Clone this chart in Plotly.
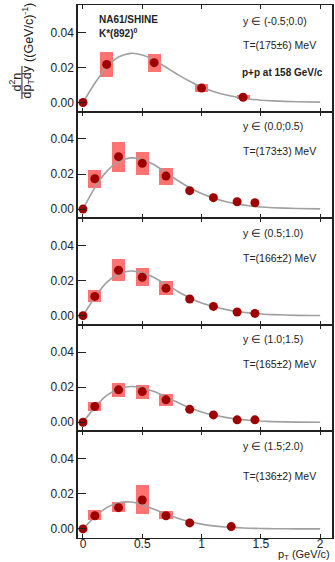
import plotly.graph_objects as go
from plotly.subplots import make_subplots

# ---------------- data ----------------
rap_labels = ["y ∈ (-0.5;0.0)", "y ∈ (0.0;0.5)", "y ∈ (0.5;1.0)", "y ∈ (1.0;1.5)", "y ∈ (1.5;2.0)"]
temp_labels = ["T=(175±6) MeV", "T=(173±3) MeV", "T=(166±2) MeV", "T=(165±2) MeV", "T=(136±2) MeV"]

pt_1 = [0.0, 0.2, 0.6, 1.0, 1.35]
val_1 = [0.0, 0.0217, 0.0227, 0.0082, 0.0030]
sys_1 = [0.0, 0.0069, 0.0051, 0.0022, 0.0012]

pt_2 = [0.0, 0.1, 0.3, 0.5, 0.7, 0.9, 1.1, 1.3, 1.45]
val_2 = [0.0, 0.0173, 0.0299, 0.0261, 0.0188, 0.0105, 0.0065, 0.0042, 0.0036]
sys_2 = [0.0, 0.0051, 0.0087, 0.0065, 0.0047, 0.0, 0.0, 0.0, 0.0]

pt_3 = [0.0, 0.1, 0.3, 0.5, 0.7, 0.9, 1.1, 1.3, 1.45]
val_3 = [0.0, 0.0110, 0.0259, 0.0219, 0.0156, 0.0095, 0.0053, 0.0021, 0.0013]
sys_3 = [0.0, 0.0033, 0.0062, 0.0052, 0.0041, 0.0, 0.0, 0.0, 0.0]

pt_4 = [0.0, 0.1, 0.3, 0.5, 0.7, 0.9, 1.1, 1.3, 1.45]
val_4 = [0.0, 0.0090, 0.0185, 0.0175, 0.0128, 0.0074, 0.0042, 0.0014, 0.0014]
sys_4 = [0.0, 0.0027, 0.0038, 0.0040, 0.0032, 0.0, 0.0, 0.0, 0.0]

pt_5 = [0.0, 0.1, 0.3, 0.5, 0.7, 0.9, 1.25]
val_5 = [0.0, 0.0075, 0.0121, 0.0165, 0.0075, 0.0034, 0.0013]
sys_5 = [0.0, 0.0028, 0.0028, 0.0082, 0.0023, 0.0, 0.0]

fit_pt = [0.0, 0.1, 0.2, 0.3, 0.4, 0.5, 0.6, 0.7, 0.8, 0.9, 1.0,
          1.1, 1.2, 1.3, 1.4, 1.5, 1.6, 1.8, 2.0]
fit_1 = [0, 0.0110, 0.0200, 0.0259, 0.0280, 0.0271, 0.0242, 0.0201, 0.0159, 0.0121, 0.0088,
         0.0063, 0.0044, 0.0030, 0.0020, 0.0013, 0.0009, 0.0004, 0.0002]
fit_2 = [0, 0.0122, 0.0215, 0.0272, 0.0292, 0.0283, 0.0253, 0.0209, 0.0163, 0.0122, 0.0089,
         0.0063, 0.0043, 0.0029, 0.0019, 0.0012, 0.0008, 0.0003, 0.0001]
fit_3 = [0, 0.0105, 0.0190, 0.0238, 0.0255, 0.0245, 0.0218, 0.0178, 0.0138, 0.0101, 0.0072,
         0.0052, 0.0036, 0.0024, 0.0016, 0.0010, 0.0006, 0.0002, 0.0001]
fit_4 = [0, 0.0085, 0.0153, 0.0190, 0.0204, 0.0196, 0.0175, 0.0145, 0.0113, 0.0083, 0.0059,
         0.0041, 0.0028, 0.0018, 0.0012, 0.0007, 0.0004, 0.0001, 0.0]
fit_5 = [0, 0.0068, 0.0121, 0.0149, 0.0153, 0.0138, 0.0112, 0.0085, 0.0061, 0.0042, 0.0027,
         0.0017, 0.0011, 0.0007, 0.0004, 0.0002, 0.0001, 0.0, 0.0]

x_ticks = [0, 0.5, 1, 1.5, 2]
x_tick_labels = ["0", "0.5", "1", "1.5", "2"]
y_ticks = [0.0, 0.02, 0.04]
y_tick_labels = ["0.00", "0.02", "0.04"]

panels = [
    (pt_1, val_1, sys_1, fit_1),
    (pt_2, val_2, sys_2, fit_2),
    (pt_3, val_3, sys_3, fit_3),
    (pt_4, val_4, sys_4, fit_4),
    (pt_5, val_5, sys_5, fit_5),
]

# ---------------- figure ----------------
W, H = 335, 562
ML, MR, MT, MB = 78, 1, 5, 24
PW, PH = W - ML - MR, H - MT - MB


def px(x):
    return (x - ML) / PW


def py(y):
    return (H - MB - y) / PH


fig = make_subplots(rows=5, cols=1, shared_xaxes=True, vertical_spacing=0)

BOX = "#ff7373"
DOT = "#9e0000"
LINE = "#a0a0a0"
FONT = "Liberation Sans, Arial, sans-serif"

for i, (pt, val, sy, fit) in enumerate(panels, start=1):
    bx = [p for p, s in zip(pt, sy) if s > 0]
    bb = [v - s for v, s in zip(val, sy) if s > 0]
    bh = [2 * s for s in sy if s > 0]
    fig.add_trace(go.Bar(x=bx, y=bh, base=bb, width=0.11, marker_color=BOX,
                         marker_line_width=0, showlegend=False, hoverinfo="skip"),
                  row=i, col=1)
    fig.add_trace(go.Scatter(x=fit_pt, y=fit, mode="lines",
                             line=dict(color=LINE, width=1.6, shape="spline", smoothing=0.6),
                             showlegend=False, hoverinfo="skip"), row=i, col=1)
    fig.add_trace(go.Scatter(x=pt, y=val, mode="markers", marker=dict(color=DOT, size=9),
                             showlegend=False), row=i, col=1)
    fig.update_yaxes(range=[-0.0052, 0.0556], tickvals=y_ticks, ticktext=y_tick_labels,
                     ticks="inside", ticklen=8, tickwidth=1.2, tickcolor="#222",
                     showline=True, linecolor="#222", linewidth=1.5, mirror=True,
                     showgrid=False, zeroline=False,
                     tickfont=dict(size=12, color="#222", family=FONT),
                     row=i, col=1)
    fig.update_xaxes(range=[-0.042, 2.1], tickvals=x_ticks, ticktext=x_tick_labels,
                     ticks="inside", ticklen=4, tickwidth=1, tickcolor="#222",
                     showline=True, linecolor="#222", linewidth=1, mirror="ticks",
                     showgrid=False, zeroline=False, showticklabels=(i == 5),
                     tickfont=dict(size=12, color="#222", family=FONT),
                     row=i, col=1)

fig.update_xaxes(ticklabelstandoff=-5, row=5, col=1)

ann = []
rap_y = [20.5, 126, 233, 339, 446.5]
temp_y = [45, 150.5, 258, 364, 475.5]
for k in range(5):
    ann.append(dict(x=px(242), y=py(rap_y[k]), xref="paper", yref="paper", text=rap_labels[k],
                    showarrow=False, xanchor="left", yanchor="middle",
                    font=dict(size=10.5, color="#222", family=FONT)))
    ann.append(dict(x=px(242), y=py(temp_y[k]), xref="paper", yref="paper", text=temp_labels[k],
                    showarrow=False, xanchor="left", yanchor="middle",
                    font=dict(size=10.5, color="#222", family=FONT)))

ann.append(dict(x=px(241), y=py(72), xref="paper", yref="paper", text="<b>p+p at 158 GeV/c</b>",
                showarrow=False, xanchor="left", yanchor="middle",
                font=dict(size=10, color="#222", family=FONT)))
ann.append(dict(x=px(97), y=py(19.5), xref="paper", yref="paper", text="<b>NA61/SHINE</b>",
                showarrow=False, xanchor="left", yanchor="middle",
                font=dict(size=10, color="#222", family=FONT)))
ann.append(dict(x=px(97), y=py(33), xref="paper", yref="paper", text="<b>K*(892)<sup>0</sup></b>",
                showarrow=False, xanchor="left", yanchor="middle",
                font=dict(size=10, color="#222", family=FONT)))

# x-axis title
ann.append(dict(x=px(334.5), y=py(555), xref="paper", yref="paper", text="p<sub>T</sub> (GeV/c)",
                showarrow=False, xanchor="right", yanchor="middle",
                font=dict(size=11, color="#222", family=FONT)))

# y-axis title as a rotated fraction
ann.append(dict(x=px(15), y=py(82), xref="paper", yref="paper", text="d<sup>2</sup>n",
                showarrow=False, xanchor="center", yanchor="middle", textangle=-90,
                font=dict(size=12.5, color="#222", family=FONT)))
ann.append(dict(x=px(28), y=py(82), xref="paper", yref="paper", text="dp<sub>T</sub>dy",
                showarrow=False, xanchor="center", yanchor="middle", textangle=-90,
                font=dict(size=12.5, color="#222", family=FONT)))
ann.append(dict(x=px(27.5), y=py(32), xref="paper", yref="paper", text="((GeV/c)<sup>-1</sup>)",
                showarrow=False, xanchor="center", yanchor="middle", textangle=-90,
                font=dict(size=12.5, color="#222", family=FONT)))

shapes = [dict(type="line", xref="paper", yref="paper", x0=px(21.5), x1=px(21.5),
               y0=py(66), y1=py(99), line=dict(color="#222", width=1))]

fig.update_layout(width=W, height=H, margin=dict(l=ML, r=MR, t=MT, b=MB),
                  plot_bgcolor="white", paper_bgcolor="white",
                  barmode="overlay", bargap=0, annotations=ann, shapes=shapes,
                  font=dict(family=FONT, color="#222"))

fig.write_html("out.html", config={"displayModeBar": False},
               post_script="document.body.style.margin='0';document.body.style.overflow='hidden';")
